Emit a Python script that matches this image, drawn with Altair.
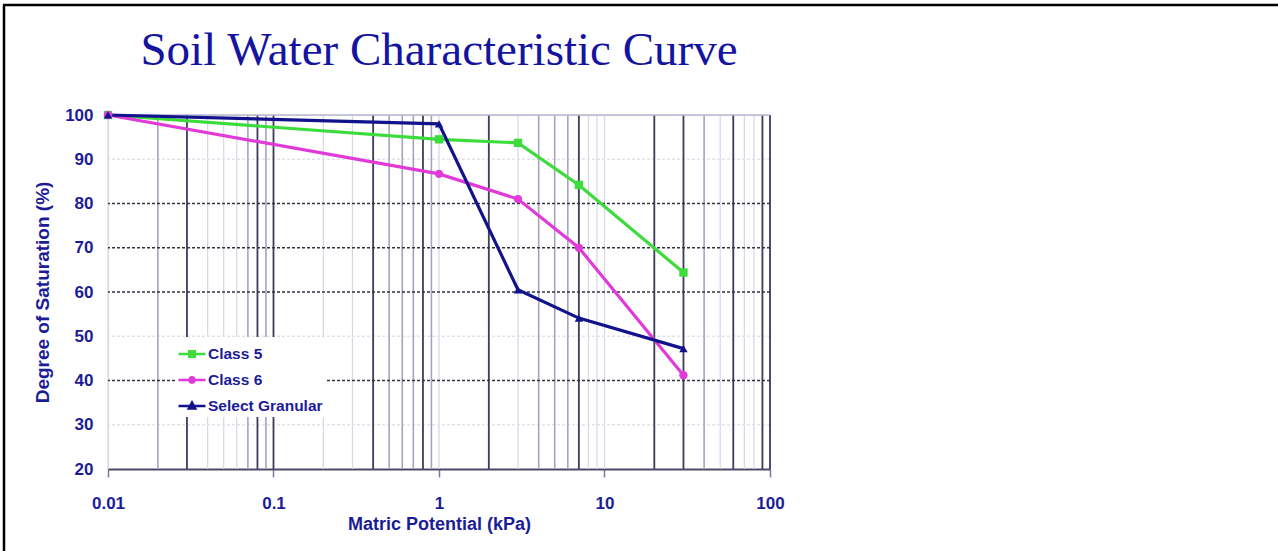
import altair as alt
import pandas as pd

# ---- data ----
chart_title = "Soil Water Characteristic Curve"
series_names = ["Class 5", "Class 6", "Select Granular"]
potential_kpa = [0.01, 1, 3, 7, 30]
class5 = [100, 94.5, 93.7, 84.2, 64.4]
class6 = [100, 86.7, 81.0, 70.0, 41.2]
select_granular = [100, 98.0, 60.5, 54.1, 47.2]

series_colors = ["#3ddc3d", "#e03ad8", "#12128c"]
series_shapes = ["square", "circle", "triangle-up"]
legend_paths = [
    "M-1,0H1M-0.2,-0.2H0.2V0.2H-0.2Z",
    "M-1,0H1M0.2,0A0.2,0.2,0,1,1,-0.2,0A0.2,0.2,0,1,1,0.2,0Z",
    "M-1,0H1M0,-0.26L0.24,0.18H-0.24Z",
]

x_ticks = [0.01, 0.1, 1, 10, 100]
y_ticks = [20, 30, 40, 50, 60, 70, 80, 90, 100]

faint_vx = [m * d for d in [0.01, 0.1, 1, 10] for m in range(1, 10)] + [100]
medium_vx = [0.02, 0.07, 0.09, 0.5, 0.6, 0.7, 0.9, 4, 5, 6, 40]
dark_vx = [0.03, 0.08, 0.1, 0.4, 0.8, 2, 7, 20, 30, 60, 90, 100]
dark_hy = [40, 60, 70, 80]
faint_hy = [30, 50, 90]
top_hy = [100]

navy = "#1c1c98"

rows = []
for name, vals, col, shp in zip(series_names, [class5, class6, select_granular],
                                series_colors, series_shapes):
    for xv, yv in zip(potential_kpa, vals):
        rows.append({"x": xv, "y": yv, "series": name, "col": col, "shp": shp})
df = pd.DataFrame(rows)

xscale = alt.Scale(type="log", domain=[0.01, 100], nice=False)
yscale = alt.Scale(domain=[20, 100], nice=False, zero=False)

xaxis = alt.Axis(values=x_ticks, format="~g", grid=False, domainColor="#4a4a66",
                 domainWidth=2, tickColor="#7a7a9a", tickSize=8, tickWidth=1.5,
                 labelFont="Liberation Sans", labelFontWeight="bold", labelFontSize=17,
                 labelColor=navy, labelPadding=18, labelFlush=False,
                 title="Matric Potential (kPa)", titleFont="Liberation Sans",
                 titleFontWeight="bold", titleFontSize=18, titleColor=navy, titlePadding=4)
yaxis = alt.Axis(values=y_ticks, grid=False, domain=False, ticks=False,
                 labelFont="Liberation Sans", labelFontWeight="bold", labelFontSize=17,
                 labelColor=navy, labelPadding=15,
                 title="Degree of Saturation (%)", titleFont="Liberation Sans",
                 titleFontWeight="bold", titleFontSize=19, titleColor=navy, titlePadding=12)

X = lambda f: alt.X(f, type="quantitative", scale=xscale, axis=xaxis)
Y = lambda f: alt.Y(f, type="quantitative", scale=yscale, axis=yaxis)

faint_v = alt.Chart(pd.DataFrame({"gx": faint_vx})).mark_rule(
    color="#d6d6e6", strokeWidth=1.2).encode(x=X("gx"))
medium_v = alt.Chart(pd.DataFrame({"gx": medium_vx})).mark_rule(
    color="#a4a4c0", strokeWidth=1.5).encode(x=X("gx"))
dark_v = alt.Chart(pd.DataFrame({"gx": dark_vx})).mark_rule(
    color="#3e3e5c", strokeWidth=1.8).encode(x=X("gx"))
dark_h = alt.Chart(pd.DataFrame({"gy": dark_hy})).mark_rule(
    color="#333344", strokeWidth=1.5, strokeDash=[3, 2]).encode(y=Y("gy"))
faint_h = alt.Chart(pd.DataFrame({"gy": faint_hy})).mark_rule(
    color="#e2e2ec", strokeWidth=1.5, strokeDash=[3, 2]).encode(y=Y("gy"))
top_h = alt.Chart(pd.DataFrame({"gy": top_hy})).mark_rule(
    color="#b8b8d2", strokeWidth=1.5).encode(y=Y("gy"))

lines = alt.Chart(df).mark_line(strokeWidth=3.2).encode(
    x=X("x"), y=Y("y"),
    color=alt.Color("col:N", scale=None),
    detail="series:N",
)
points = alt.Chart(df).mark_point(filled=True, size=70, opacity=1).encode(
    x=X("x"), y=Y("y"),
    color=alt.Color("col:N", scale=None),
    shape=alt.Shape("shp:N", scale=None),
)

leg = alt.Legend(title=None, orient="none", legendX=67, legendY=222, fillColor="white",
                 padding=2, labelFont="Liberation Sans", labelFontWeight="bold",
                 labelFontSize=15.5, labelColor=navy, symbolSize=729,
                 symbolStrokeWidth=2.5, symbolOpacity=1, rowPadding=2, labelOffset=1)
legend_layer = alt.Chart(df).mark_point(filled=True, opacity=0).encode(
    x=X("x"), y=Y("y"),
    fill=alt.Fill("series:N", scale=alt.Scale(domain=series_names, range=series_colors), legend=leg),
    stroke=alt.Stroke("series:N", scale=alt.Scale(domain=series_names, range=series_colors), legend=leg),
    shape=alt.Shape("series:N", scale=alt.Scale(domain=series_names, range=legend_paths), legend=leg),
)

title_layer = alt.Chart(pd.DataFrame({"t": [chart_title]})).mark_text(
    font="Liberation Serif", fontSize=47, color="#1414a0", align="center",
    baseline="alphabetic").encode(text="t:N", x=alt.value(331), y=alt.value(-50))

border_left = alt.Chart(pd.DataFrame({"k": [0]})).mark_rule(color="black", strokeWidth=2.5).encode(
    x=alt.value(-104), y=alt.value(-110), y2=alt.value(440))
border_top = alt.Chart(pd.DataFrame({"k": [0]})).mark_rule(color="black", strokeWidth=2.5).encode(
    x=alt.value(-105), x2=alt.value(1172), y=alt.value(-110))

chart = alt.layer(
    faint_v, faint_h, medium_v, dark_v, dark_h, top_h, lines, points, legend_layer,
    title_layer, border_left, border_top,
).properties(
    width=662, height=354,
    autosize=alt.AutoSizeParams(type="none"),
    padding={"left": 108, "top": 115, "right": 508, "bottom": 82},
).configure_view(stroke=None).configure(background="white")

chart.save("out.html", embed_options={"renderer": "svg", "actions": False})
